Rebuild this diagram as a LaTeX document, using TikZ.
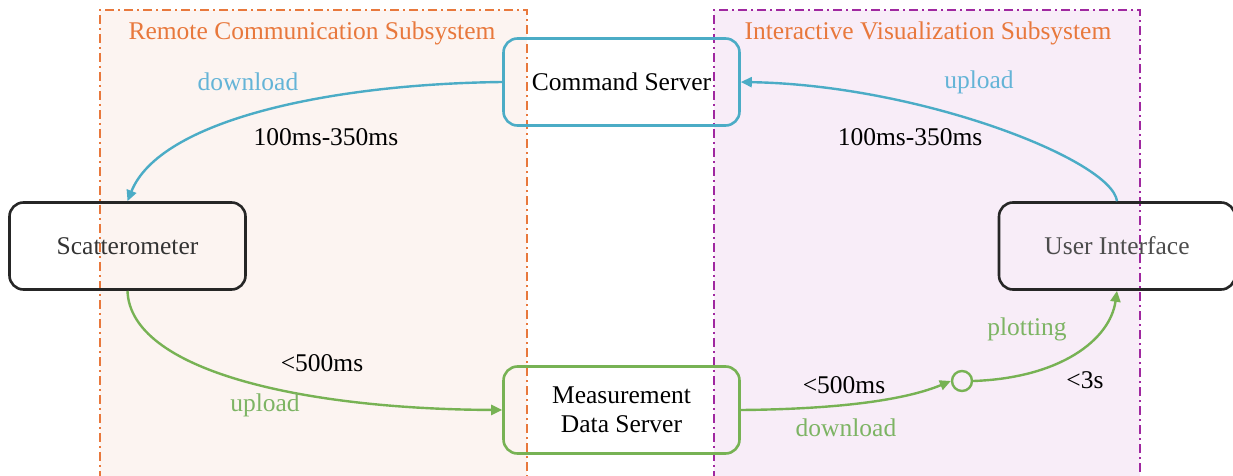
\documentclass[tikz,border=0pt]{standalone}
\usepackage{fontspec}
\setmainfont{Liberation Serif}
\usetikzlibrary{arrows.meta}
\definecolor{cblue}{RGB}{75,172,198}
\definecolor{lblue}{RGB}{100,180,215}
\definecolor{cgreen}{RGB}{119,178,84}
\definecolor{lgreen}{RGB}{125,180,100}
\definecolor{corange}{RGB}{232,120,60}
\definecolor{cpurple}{RGB}{160,40,160}
\definecolor{forange}{RGB}{252,244,241}
\definecolor{fpurple}{RGB}{248,237,248}
\tikzset{
  region/.style={dash pattern=on 9pt off 4pt on 2pt off 4pt, line width=1.8pt},
  box/.style={draw, rounded corners=14pt, line width=2.6pt, minimum width=236pt, minimum height=87pt, align=center, font=\fontsize{25.5}{29}\selectfont, inner sep=0pt},
  conn/.style={line width=2.4pt, -{Triangle[length=11pt,width=10pt]}},
  lab/.style={font=\fontsize{25.5}{28}\selectfont},
}
\begin{document}
\begin{tikzpicture}[x=1pt,y=-1pt]
\useasboundingbox (0,0) rectangle (1233,476);
\fill[forange] (100,10) rectangle (527,480);
\fill[fpurple] (714,10) rectangle (1140,480);
\draw[region, corange] (100,480) -- (100,10) -- (527,10) -- (527,480);
\draw[region, cpurple] (714,480) -- (714,10) -- (1140,10) -- (1140,480);
\node[corange, lab] (t1) at (312,33) {Remote Communication Subsystem};
\node[corange, lab] (t2) at (928,33) {Interactive Visualization Subsystem};

\node[box, draw=cblue, text=black] (cs) at (621.5,82) {Command Server};
\node[box, draw=black!85, text=black!80] (sc) at (127.5,246) {Scatterometer};
\node[box, draw=black!85, text=black!70] (ui) at (1117,246) {User Interface};
\node[box, draw=cgreen, text=black] (md) at (621.5,410) {Measurement\\Data Server};
\node[circle, draw=cgreen, line width=2.4pt, minimum size=20pt, inner sep=0pt] (c) at (962,381) {};

\draw[conn, cblue] (cs.west) .. controls (330,84) and (160,120) .. (sc.north);
\draw[conn, cblue] (ui.north) .. controls (1112,160) and (920,85) .. (cs.east);
\draw[conn, cgreen] (sc.south) .. controls (130,370) and (300,409) .. (md.west);
\draw[conn, cgreen] (md.east) .. controls (850,409) and (910,398) .. (c.west);
\draw[conn, cgreen] (c.east) .. controls (1060,378) and (1110,340) .. (ui.south);

\node[lab, lblue] (l1) at (248,82) {download};
\node[lab] (l2) at (326,137) {100ms-350ms};
\node[lab, lblue] (l3) at (979,82) {upload};
\node[lab] (l4) at (910,137) {100ms-350ms};
\node[lab] (l5) at (322,363) {<500ms};
\node[lab, lgreen] (l6) at (265,405) {upload};
\node[lab] (l7) at (844,385) {<500ms};
\node[lab, lgreen] (l8) at (846,428) {download};
\node[lab, lgreen] (l9) at (1027,329) {plotting};
\node[lab] (l10) at (1085,380) {<3s};
\end{tikzpicture}
\end{document}
